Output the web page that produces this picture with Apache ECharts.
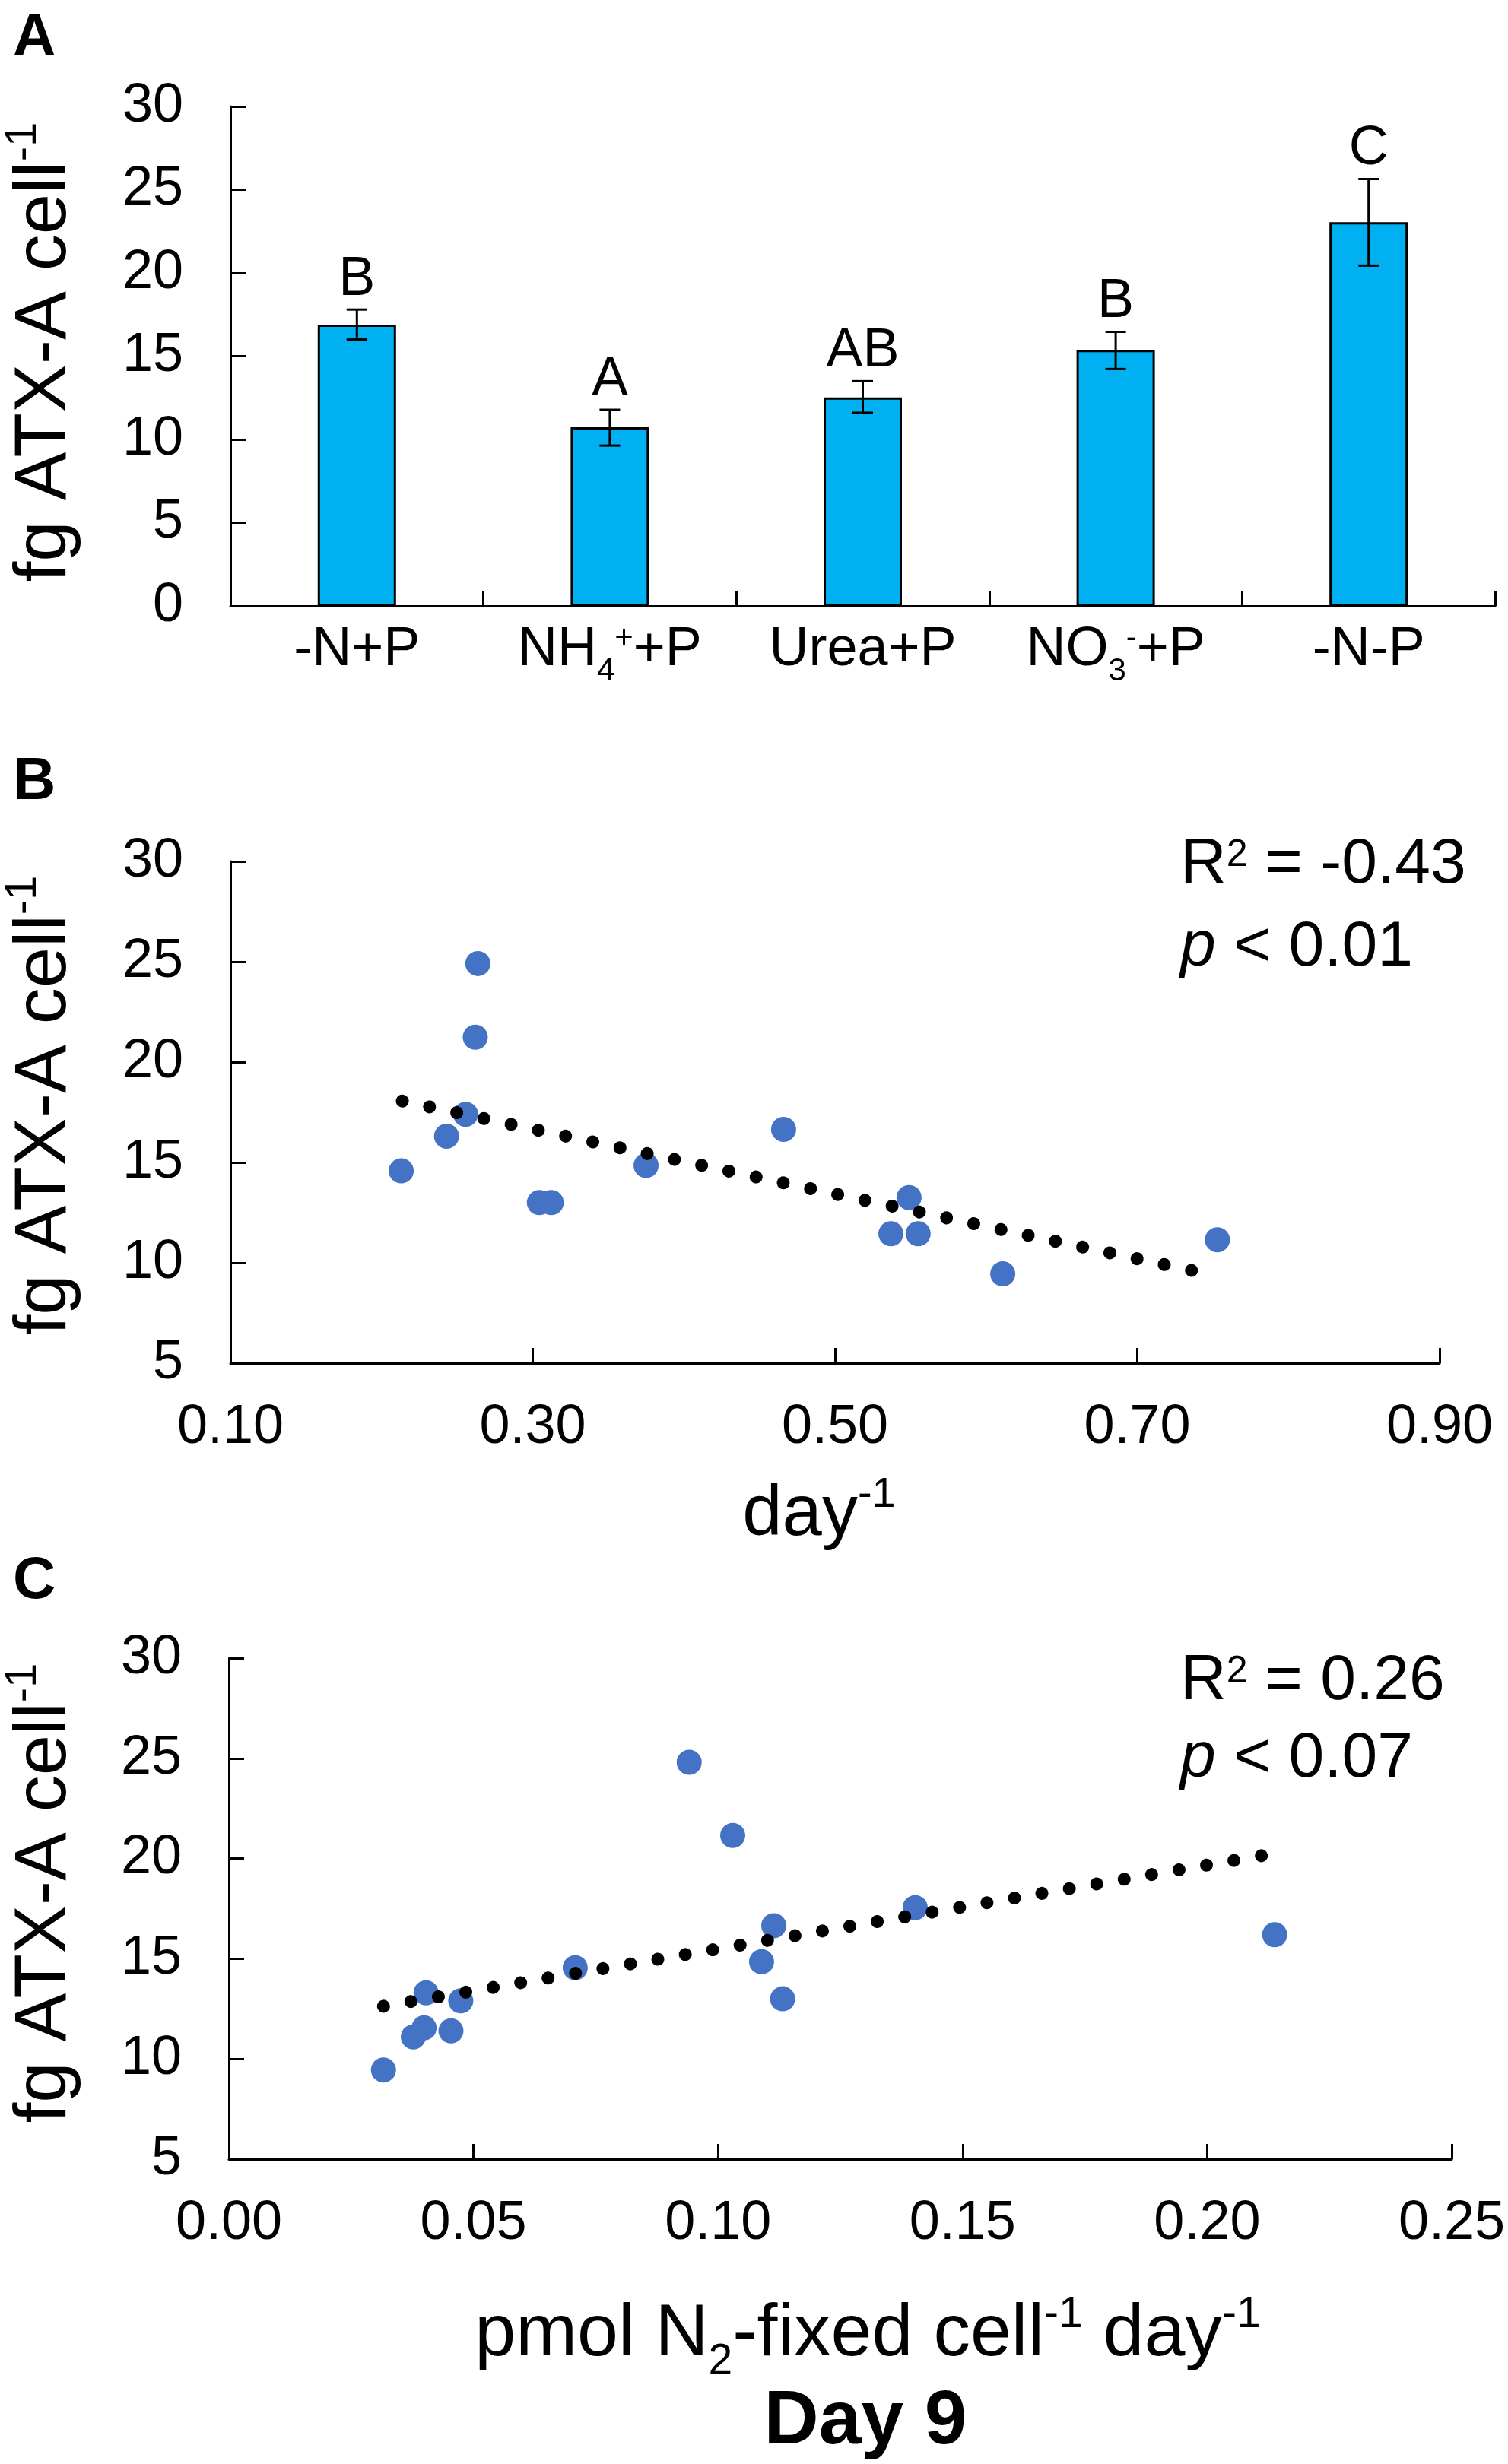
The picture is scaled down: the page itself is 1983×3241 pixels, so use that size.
<!DOCTYPE html>
<html>
<head>
<meta charset="utf-8">
<script src="https://cdn.jsdelivr.net/npm/echarts@6/dist/echarts.min.js"></script>
<style>html,body{margin:0;padding:0;background:#fff}#c{width:1983px;height:3241px}</style>
</head>
<body>
<div id="c"></div>
<script>
// ---------- Panel A data ----------
const categories = ['-N+P', 'NH4+ +P', 'Urea+P', 'NO3- +P', '-N-P'];
const categoryLabels = ['-N+P', 'NH{sub|4}{sup|+}+P', 'Urea+P', 'NO{sub|3}{sup|-}+P', '-N-P'];
const barMeans = [16.9, 10.73, 12.52, 15.38, 23.05];
const errLow = [16.0, 9.63, 11.6, 14.23, 20.44];
const errHigh = [17.8, 11.78, 13.5, 16.46, 25.64];
const sigLetters = ['B', 'A', 'AB', 'B', 'C'];
const yTicksA = { min: 0, max: 30, interval: 5 };

// ---------- Panel B data ----------
const growthRate = [0.213, 0.243, 0.2556, 0.262, 0.2637, 0.3044, 0.3123, 0.375, 0.466, 0.537, 0.549, 0.555, 0.611, 0.753];
const atxB = [14.58, 16.31, 17.4, 21.24, 24.91, 13.0, 13.0, 14.85, 16.65, 11.45, 13.25, 11.45, 9.45, 11.15];
const trendB = [[0.2137, 18.06], [0.739, 9.57]];
const statsB = ['-0.43', '0.01'];
const xTicksB = { min: 0.1, max: 0.9, interval: 0.2 };

// ---------- Panel C data ----------
const n2Fixed = [0.0316, 0.0377, 0.0399, 0.0403, 0.0454, 0.0474, 0.0708, 0.0941, 0.1030, 0.1089, 0.1114, 0.1132, 0.1403, 0.2138];
const atxC = [9.45, 11.1, 11.55, 13.3, 11.4, 12.9, 14.55, 24.8, 21.15, 14.85, 16.65, 13.0, 17.55, 16.2];
const trendC = [[0.0316, 12.63], [0.2127, 20.21]];
const statsC = ['0.26', '0.07'];
const xTicksC = { min: 0, max: 0.25, interval: 0.05 };
const yTicksBC = { min: 5, max: 30, interval: 5 };

// ---------- styling ----------
const FF = "'Liberation Sans', Arial, Helvetica, sans-serif";
const axisLine = { show: true, lineStyle: { color: '#000', width: 3 } };
const axisTick = { show: true, inside: true, length: 20, lineStyle: { color: '#000', width: 3 } };
const tickFont = { fontSize: 72, color: '#000', fontFamily: FF };

function yAxis(grid, t) {
  return {
    type: 'value', gridIndex: grid, min: t.min, max: t.max, interval: t.interval,
    axisLine, axisTick, splitLine: { show: false },
    axisLabel: Object.assign({ margin: 62 }, tickFont)
  };
}
function xValAxis(grid, t) {
  return {
    type: 'value', gridIndex: grid, min: t.min, max: t.max, interval: t.interval,
    axisLine, axisTick, splitLine: { show: false },
    axisLabel: Object.assign({ margin: 49, formatter: v => v.toFixed(2) }, tickFont)
  };
}
function zip(a, b) { return a.map((v, i) => [v, b[i]]); }

const supSmall = (fs, p) => ({ fontSize: fs, fontFamily: FF, fill: '#000', color: '#000', padding: [0, 0, p, 0] });
const subSmall = (fs, p) => ({ fontSize: fs, fontFamily: FF, fill: '#000', color: '#000', padding: [p, 0, 0, 0] });

function txt(x, y, text, opts) {
  return {
    type: 'text', x: x, y: y, rotation: opts.rotation || 0, silent: true,
    style: Object.assign({
      text: text, fill: '#000', fontFamily: FF, fontSize: 72,
      align: 'center', verticalAlign: 'middle'
    }, opts.style || {})
  };
}

const yTitleStyle = { fontSize: 96, rich: { sup: supSmall(58, 58) } };

const graphics = [
  txt(17, 51, 'A', { style: { fontSize: 78, fontWeight: 'bold', align: 'left' } }),
  txt(17, 1029, 'B', { style: { fontSize: 78, fontWeight: 'bold', align: 'left' } }),
  txt(17, 2080, 'C', { style: { fontSize: 78, fontWeight: 'bold', align: 'left' } }),
  // y titles
  txt(60, 463, 'fg ATX-A cell{sup|-1}', { rotation: Math.PI / 2, style: yTitleStyle }),
  txt(60, 1454, 'fg ATX-A cell{sup|-1}', { rotation: Math.PI / 2, style: yTitleStyle }),
  txt(60, 2490, 'fg ATX-A cell{sup|-1}', { rotation: Math.PI / 2, style: yTitleStyle }),
  // stats B
  txt(1552, 1138, 'R{sup|2} = ' + statsB[0], { style: { fontSize: 84, align: 'left', rich: { sup: supSmall(50, 26) } } }),
  txt(1552, 1247, '{i|p} < ' + statsB[1], { style: { fontSize: 84, align: 'left', rich: { i: { fontSize: 84, fontStyle: 'italic', fontFamily: FF, fill: '#000' } } } }),
  // stats C
  txt(1552, 2212, 'R{sup|2} = ' + statsC[0], { style: { fontSize: 84, align: 'left', rich: { sup: supSmall(50, 26) } } }),
  txt(1552, 2314, '{i|p} < ' + statsC[1], { style: { fontSize: 84, align: 'left', rich: { i: { fontSize: 84, fontStyle: 'italic', fontFamily: FF, fill: '#000' } } } }),
  // x titles
  txt(1077, 1993, 'day{sup|-1}', { style: { fontSize: 94, rich: { sup: supSmall(56, 52) } } }),
  txt(1141, 3071, 'pmol N{sub|2}-fixed cell{sup|-1} day{sup|-1}', { style: { fontSize: 97, rich: { sup: supSmall(57, 52), sub: subSmall(57, 72) } } }),
  txt(1138, 3186, 'Day 9', { style: { fontSize: 100, fontWeight: 'bold' } })
];

const option = {
  animation: false,
  backgroundColor: '#fff',
  textStyle: { fontFamily: FF },
  grid: [
    { left: 303, top: 140, width: 1663, height: 657 },
    { left: 303, top: 1133, width: 1590, height: 660 },
    { left: 301, top: 2181, width: 1608, height: 659 }
  ],
  xAxis: [
    {
      type: 'category', gridIndex: 0, data: categories,
      axisLine, axisTick: Object.assign({}, axisTick, { alignWithLabel: false, interval: 0 }),
      splitLine: { show: false },
      axisLabel: Object.assign({
        interval: 0, margin: 8, lineHeight: 100,
        formatter: (v, i) => categoryLabels[i],
        rich: { sub: subSmall(42, 56), sup: supSmall(42, 30) }
      }, tickFont)
    },
    xValAxis(1, xTicksB),
    xValAxis(2, xTicksC)
  ],
  yAxis: [yAxis(0, yTicksA), yAxis(1, yTicksBC), yAxis(2, yTicksBC)],
  series: [
    {
      type: 'bar', xAxisIndex: 0, yAxisIndex: 0, data: barMeans, barWidth: 103,
      itemStyle: { color: '#00B0F0', borderColor: '#000', borderWidth: 3 }
    },
    {
      type: 'custom', xAxisIndex: 0, yAxisIndex: 0, z: 5,
      data: categories.map((c, i) => [i, errLow[i], errHigh[i]]),
      renderItem: function (params, api) {
        const lo = api.coord([api.value(0), api.value(1)]);
        const hi = api.coord([api.value(0), api.value(2)]);
        const hw = 13.5;
        const st = { stroke: '#000', lineWidth: 3 };
        return {
          type: 'group', children: [
            { type: 'line', shape: { x1: lo[0], y1: lo[1], x2: hi[0], y2: hi[1] }, style: st },
            { type: 'line', shape: { x1: lo[0] - hw, y1: lo[1], x2: lo[0] + hw, y2: lo[1] }, style: st },
            { type: 'line', shape: { x1: hi[0] - hw, y1: hi[1], x2: hi[0] + hw, y2: hi[1] }, style: st },
            {
              type: 'text', x: hi[0], y: hi[1] - 3,
              style: {
                text: sigLetters[params.dataIndex], fill: '#000', fontSize: 72, fontFamily: FF,
                align: 'center', verticalAlign: 'bottom'
              }
            }
          ]
        };
      }
    },
    {
      type: 'scatter', xAxisIndex: 1, yAxisIndex: 1, data: zip(growthRate, atxB),
      symbolSize: 33, itemStyle: { color: '#4472C4', opacity: 1 }, z: 3
    },
    {
      type: 'line', xAxisIndex: 1, yAxisIndex: 1, data: trendB, symbol: 'none', z: 4,
      lineStyle: { color: '#000', width: 17, type: [0.1, 36.5], cap: 'round' }
    },
    {
      type: 'scatter', xAxisIndex: 2, yAxisIndex: 2, data: zip(n2Fixed, atxC),
      symbolSize: 33, itemStyle: { color: '#4472C4', opacity: 1 }, z: 3
    },
    {
      type: 'line', xAxisIndex: 2, yAxisIndex: 2, data: trendC, symbol: 'none', z: 4,
      lineStyle: { color: '#000', width: 17, type: [0.1, 36.5], cap: 'round' }
    }
  ],
  graphic: graphics
};

const chart = echarts.init(document.getElementById('c'), null, { renderer: 'canvas' });
chart.setOption(option);
</script>
</body>
</html>
